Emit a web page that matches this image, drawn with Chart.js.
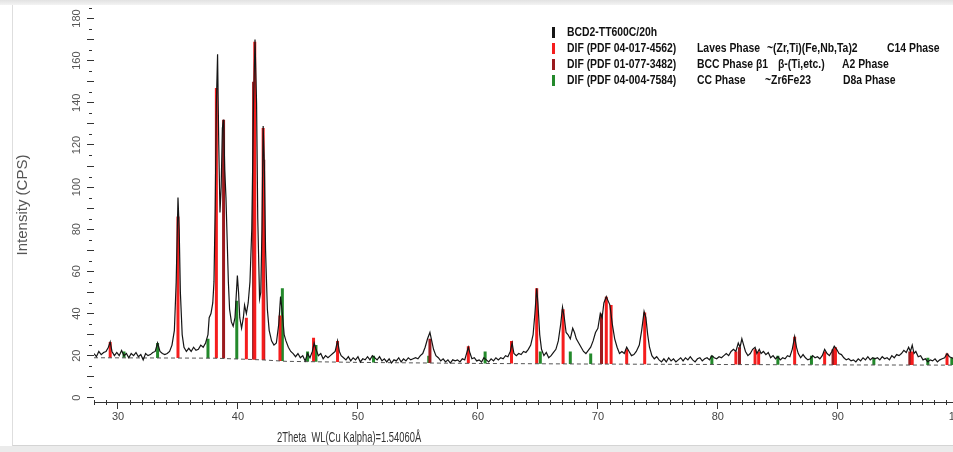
<!DOCTYPE html>
<html>
<head>
<meta charset="utf-8">
<script src="https://cdn.jsdelivr.net/npm/chart.js@4.4.1/dist/chart.umd.min.js"></script>
<style>
html, body { margin: 0; padding: 0; background: #fff; overflow: hidden; }
#wrap { position: relative; width: 953px; height: 452px; overflow: hidden; background: #fff; }
#topband { position: absolute; left: 0; top: 0; width: 953px; height: 5px; background: linear-gradient(#e2e2e2, #f3f3f3); }
#frame { position: absolute; left: 12px; top: 5px; width: 960px; height: 440px; border-left: 1px solid #dedede; border-bottom: 1px solid #d4d4d4; }
#botband { position: absolute; left: 0; top: 446px; width: 953px; height: 6px; background: #ebebeb; }
canvas { position: absolute; left: 0; top: 0; }
</style>
</head>
<body>
<div id="wrap">
  <div id="topband"></div>
  <div id="frame"></div>
  <div id="botband"></div>
  <canvas id="myChart" width="968" height="452"></canvas>
</div>
<script>
// Measured pattern (2theta in degrees, intensity in CPS)
const twoTheta = [
  28.0, 28.2, 28.4, 28.6, 28.8, 29.0, 29.2, 29.35, 29.5, 29.7, 29.9, 30.1, 30.3, 30.5, 30.7, 30.9,
  31.1, 31.3, 31.5, 31.7, 31.9, 32.1, 32.3, 32.5, 32.7, 32.9, 33.1, 33.3, 33.5, 33.7, 33.9, 34.1,
  34.3, 34.5, 34.7, 34.85, 35.0, 35.1, 35.2, 35.35, 35.5, 35.7, 35.9, 36.1, 36.3, 36.5, 36.7, 36.9,
  37.1, 37.3, 37.5, 37.6, 37.75, 37.9, 38.0, 38.1, 38.2, 38.3, 38.4, 38.5, 38.6, 38.7, 38.8, 38.9,
  39.0, 39.1, 39.2, 39.3, 39.45, 39.6, 39.75, 39.85, 39.95, 40.05, 40.15, 40.3, 40.45, 40.55, 40.7, 40.85,
  41.0, 41.15, 41.3, 41.42, 41.55, 41.65, 41.8, 41.9, 42.0, 42.1, 42.2, 42.3, 42.45, 42.6, 42.8, 43.0,
  43.2, 43.4, 43.55, 43.7, 43.85, 44.0, 44.2, 44.4, 44.6, 44.8, 45.0, 45.2, 45.4, 45.6, 45.8, 46.0,
  46.2, 46.35, 46.5, 46.7, 46.9, 47.1, 47.3, 47.5, 47.7, 47.9, 48.1, 48.3, 48.45, 48.6, 48.8, 49.0,
  49.2, 49.4, 49.6, 49.8, 50.0, 50.2, 50.4, 50.6, 50.8, 51.0, 51.2, 51.4, 51.6, 51.8, 52.0, 52.2,
  52.4, 52.6, 52.8, 53.0, 53.2, 53.4, 53.6, 53.8, 54.0, 54.2, 54.4, 54.6, 54.8, 55.0, 55.2, 55.4,
  55.6, 55.8, 56.0, 56.15, 56.3, 56.5, 56.7, 56.9, 57.1, 57.3, 57.5, 57.7, 57.9, 58.1, 58.3, 58.5,
  58.7, 58.9, 59.05, 59.2, 59.35, 59.5, 59.7, 59.9, 60.1, 60.3, 60.5, 60.7, 60.9, 61.1, 61.3, 61.5,
  61.7, 61.9, 62.1, 62.3, 62.5, 62.7, 62.85, 63.0, 63.2, 63.4, 63.6, 63.8, 64.0, 64.2, 64.4, 64.6,
  64.75, 64.9, 65.0, 65.15, 65.3, 65.5, 65.7, 65.9, 66.1, 66.3, 66.5, 66.7, 66.9, 67.05, 67.2, 67.35,
  67.5, 67.7, 67.9, 68.05, 68.2, 68.4, 68.6, 68.8, 69.0, 69.2, 69.4, 69.6, 69.8, 70.0, 70.2, 70.35,
  70.5, 70.7, 70.85, 71.0, 71.2, 71.4, 71.6, 71.8, 72.0, 72.2, 72.4, 72.6, 72.8, 73.0, 73.2, 73.45,
  73.65, 73.85, 74.0, 74.15, 74.3, 74.5, 74.7, 74.9, 75.1, 75.3, 75.5, 75.7, 75.9, 76.1, 76.3, 76.5,
  76.7, 76.9, 77.1, 77.3, 77.5, 77.7, 77.9, 78.1, 78.3, 78.5, 78.7, 78.9, 79.1, 79.3, 79.5, 79.7,
  79.9, 80.1, 80.3, 80.5, 80.7, 80.9, 81.1, 81.3, 81.5, 81.7, 81.85, 82.0, 82.15, 82.3, 82.5, 82.7,
  82.9, 83.1, 83.25, 83.45, 83.6, 83.8, 84.0, 84.2, 84.4, 84.6, 84.8, 85.0, 85.2, 85.4, 85.6, 85.8,
  86.0, 86.2, 86.4, 86.55, 86.7, 86.9, 87.1, 87.3, 87.5, 87.7, 87.9, 88.1, 88.3, 88.5, 88.7, 88.9,
  89.1, 89.3, 89.5, 89.7, 89.9, 90.1, 90.3, 90.5, 90.7, 90.9, 91.1, 91.3, 91.5, 91.7, 91.9, 92.1,
  92.3, 92.5, 92.7, 92.9, 93.1, 93.3, 93.5, 93.7, 93.9, 94.1, 94.3, 94.5, 94.7, 94.9, 95.1, 95.3,
  95.5, 95.7, 95.9, 96.05, 96.2, 96.35, 96.5, 96.7, 96.9, 97.1, 97.3, 97.5, 97.7, 97.9, 98.1, 98.3,
  98.5, 98.7, 98.9, 99.1, 99.3, 99.5, 99.7, 100.0
];
const intensity = [
  21, 19.5, 22, 20.5, 21.5, 22, 24, 26.5, 22, 20, 21.5, 20, 22.5, 20, 21, 19,
  21, 20, 21.5, 19.5, 20.5, 18, 21, 20, 20.5, 21.5, 22, 26, 22, 21, 20.5, 21,
  22, 25, 32, 55, 95, 80, 50, 30, 24, 22, 23.5, 22, 24, 22.5, 23, 25,
  24, 26, 30, 38, 40, 45, 55, 90, 140, 163, 120, 88, 100, 128, 132, 108,
  95, 75, 55, 42, 36, 34, 38, 48, 58, 50, 38, 33, 38, 44, 40, 45,
  55, 80, 140, 170, 140, 85, 47, 50, 80, 129, 110, 70, 42, 32, 27, 25,
  26, 35, 48, 40, 30, 27, 24, 22, 21, 19.5, 21, 19, 20, 17.5, 21, 19,
  22, 26, 23, 20, 21, 18.5, 20, 19, 20, 21, 22, 27, 22, 20, 19, 18,
  19.5, 17.5, 19, 18, 19.5, 17, 18.5, 18, 19.5, 18, 20, 19, 18, 19.5, 17.5, 18.5,
  17, 18.5, 16.5, 18, 17.5, 19, 17, 18.5, 17.5, 19, 18, 18.5, 19, 18.5, 20, 21,
  24, 28, 31, 27, 23, 20, 19, 17.5, 18.5, 17, 18, 16.5, 18, 17.5, 18, 17,
  18.5, 18, 21, 24, 21, 18.5, 19, 17.5, 18, 17, 19, 18, 17, 18.5, 17.5, 19,
  18, 19, 18.5, 20, 19.5, 22, 26, 21, 20, 21, 20.5, 22, 21.5, 23, 25, 30,
  40, 52, 45, 30, 23, 20, 21.5, 19, 20, 21.5, 23, 27, 35, 43, 38, 31,
  30, 28, 33, 31, 28, 26, 24, 22, 21, 22.5, 24, 27, 31, 33, 40, 38,
  45, 48, 46, 44, 35, 28, 24, 21, 22, 21, 24, 22, 20, 20.5, 22, 25,
  32, 41, 38, 30, 24, 20, 18.5, 19.5, 18, 17, 18.5, 17, 19, 17.5, 18.5, 17,
  18, 19, 17.5, 19, 18, 19.5, 18, 17, 18.5, 19, 17.5, 18.5, 19, 18, 20, 19,
  18.5, 19.5, 19, 20, 21, 20, 22, 23, 22, 26, 24, 28, 25, 22, 20, 21,
  23, 24, 21, 23, 21, 22, 20.5, 21.5, 19, 20, 18.5, 19.5, 18, 19, 18.5, 20,
  19.5, 23, 29, 24, 21, 19, 20.5, 19, 18, 18.5, 20, 19, 19.5, 18.5, 20, 23,
  21, 20, 22, 24.5, 23, 21, 20.5, 19, 18, 18.5, 17.5, 18, 17, 18.5, 17.5, 19,
  18, 19.5, 18, 19, 18.5, 19, 18, 19.5, 18.5, 19, 18, 20, 19, 20.5, 20, 21,
  22.5, 21.5, 24, 22, 25, 21, 22, 19.5, 20, 18, 18.5, 17, 18, 17.5, 18.5, 17,
  18, 18.5, 19, 21, 19.5, 19, 18.5, 19
];

// Fitted background (dashed)
const baselineX = [28, 38, 42, 44, 50, 60, 70, 80, 90, 100];
const baselineY = [19, 18.8, 18, 17.3, 16.8, 16.3, 16, 15.8, 15.6, 15.5];

// Reference patterns: line positions and heights
const lavesPos = [29.35, 35.0, 38.2, 40.7, 41.4, 42.1, 43.5, 46.3, 48.3, 59.2, 62.8, 64.9, 67.1, 70.7, 71.1, 72.4, 73.9, 81.5, 83.1, 83.4, 86.4, 88.9, 89.8, 96.2, 99.1];
const lavesInt = [26.5, 86, 147, 38, 169, 128, 39, 28.5, 27, 24.5, 27, 52, 42, 48, 44, 23, 40.5, 22, 23, 22, 29, 22, 24, 22, 21];
const bccPos = [38.8, 41.3, 42.15, 56.0, 70.3, 81.8, 89.6, 96.0];
const bccInt = [132, 150, 113, 28, 40, 24, 23, 22];
const ccPos = [30.5, 33.3, 37.5, 39.9, 43.7, 45.8, 46.5, 51.3, 55.9, 60.6, 65.2, 67.7, 69.4, 79.5, 85.0, 87.8, 93.0, 97.5, 99.5];
const ccInt = [22, 26, 28, 46, 52, 22, 25, 20, 20, 22, 22, 22, 21, 20, 20, 20, 19, 19, 19];

const xMajor = [30, 40, 50, 60, 70, 80, 90, 100];
const yLabels = [0, 20, 40, 60, 80, 100, 120, 140, 160, 180];

const legendRows = [
  ['BCD2-TT600C/20h'],
  ['DIF (PDF 04-017-4562)', 'Laves Phase', '~(Zr,Ti)(Fe,Nb,Ta)2', 'C14 Phase'],
  ['DIF (PDF 01-077-3482)', 'BCC Phase \u03b21', '\u03b2-(Ti,etc.)', 'A2 Phase'],
  ['DIF (PDF 04-004-7584)', 'CC Phase', '~Zr6Fe23', 'D8a Phase']
];

const BLACK = '#151515';
const RED = '#f51d1d';
const DARKRED = '#9a1a1e';
const GREEN = '#23892b';
const legendColors = [BLACK, RED, DARKRED, GREEN];

// background value at a given angle (for the foot of each reference line)
function baseAt(x) {
  for (let i = 1; i < baselineX.length; i++) {
    if (x <= baselineX[i]) {
      const t = (x - baselineX[i - 1]) / (baselineX[i] - baselineX[i - 1]);
      return baselineY[i - 1] + t * (baselineY[i] - baselineY[i - 1]);
    }
  }
  return baselineY[baselineY.length - 1];
}

function sticks(pos, hts) {
  const pts = [];
  pos.forEach((p, i) => {
    pts.push({ x: p, y: baseAt(p) }, { x: p, y: hts[i] }, { x: p, y: null });
  });
  return pts;
}

const sans = "'Liberation Sans', Arial, sans-serif";

// text squeezed horizontally to look like the narrow font of the original
function narrowText(ctx, txt, x, y, squeeze) {
  ctx.save();
  ctx.translate(x, y);
  ctx.scale(squeeze, 1);
  ctx.fillText(txt, 0, 0);
  ctx.restore();
}

// extra drawing: minor ticks, rotated y labels, x title, legend
const decorations = {
  id: 'decorations',
  afterDraw(chart) {
    const ctx = chart.ctx;
    const xs = chart.scales.x, ys = chart.scales.y;
    const area = chart.chartArea;
    ctx.save();
    ctx.strokeStyle = '#333';
    ctx.lineWidth = 1;
    // x minor ticks every degree
    for (let v = 28; v <= 100; v++) {
      if (v % 10 === 0) continue;
      const px = Math.round(xs.getPixelForValue(v)) + 0.5;
      ctx.beginPath();
      ctx.moveTo(px, area.bottom - 2);
      ctx.lineTo(px, area.bottom + 3);
      ctx.stroke();
    }
    // y minor ticks every 5
    for (let v = 5; v <= 185; v += 10) {
      const py = Math.round(ys.getPixelForValue(v)) + 0.5;
      ctx.beginPath();
      ctx.moveTo(area.left - 5, py);
      ctx.lineTo(area.left - 2, py);
      ctx.stroke();
    }
    // y labels, rotated
    ctx.fillStyle = '#555';
    ctx.font = '11px ' + sans;
    ctx.textAlign = 'center';
    ctx.textBaseline = 'middle';
    yLabels.forEach(v => {
      ctx.save();
      ctx.translate(77, ys.getPixelForValue(v));
      ctx.rotate(-Math.PI / 2);
      ctx.fillText(String(v), 0, 0);
      ctx.restore();
    });
    // x title
    ctx.fillStyle = '#333';
    ctx.font = '14px ' + sans;
    ctx.textAlign = 'left';
    narrowText(ctx, '2Theta  WL(Cu Kalpha)=1.54060\u00c5', 277, 438, 0.67);
    // legend
    const rowY = [32, 48, 64, 80];
    const colX = [
      [567],
      [567, 697, 767, 887],
      [567, 697, 778, 842],
      [567, 697, 765, 843]
    ];
    ctx.font = 'bold 13px ' + sans;
    legendRows.forEach((row, r) => {
      ctx.fillStyle = legendColors[r];
      ctx.fillRect(552, rowY[r] - 5, 3, 11);
      ctx.fillStyle = '#111';
      row.forEach((txt, c) => narrowText(ctx, txt, colX[r][c], rowY[r], 0.8));
    });
    ctx.restore();
  }
};

const ctx = document.getElementById('myChart').getContext('2d');
new Chart(ctx, {
  type: 'line',
  data: {
    datasets: [
      {
        label: 'BCD2-TT600C/20h',
        data: twoTheta.map((t, i) => ({ x: t, y: intensity[i] })),
        borderColor: BLACK,
        borderWidth: 1.2,
        pointRadius: 0,
        tension: 0
      },
      {
        label: 'background',
        data: baselineX.map((t, i) => ({ x: t, y: baselineY[i] })),
        borderColor: '#555',
        borderWidth: 1,
        borderDash: [4, 3],
        pointRadius: 0
      },
      {
        label: 'Laves Phase',
        data: sticks(lavesPos, lavesInt),
        borderColor: RED,
        borderWidth: 3,
        borderCapStyle: 'butt',
        pointRadius: 0,
        spanGaps: false
      },
      {
        label: 'BCC Phase',
        data: sticks(bccPos, bccInt),
        borderColor: DARKRED,
        borderWidth: 3,
        borderCapStyle: 'butt',
        pointRadius: 0,
        spanGaps: false
      },
      {
        label: 'CC Phase',
        data: sticks(ccPos, ccInt),
        borderColor: GREEN,
        borderWidth: 3,
        borderCapStyle: 'butt',
        pointRadius: 0,
        spanGaps: false
      }
    ]
  },
  options: {
    responsive: false,
    animation: false,
    devicePixelRatio: 1,
    layout: { padding: { top: 8, right: 8, left: 0, bottom: 0 } },
    plugins: { legend: { display: false }, tooltip: { enabled: false } },
    scales: {
      x: {
        type: 'linear',
        min: 28,
        max: 100,
        afterBuildTicks: s => { s.ticks = xMajor.map(v => ({ value: v })); },
        afterFit: s => { s.height = 50; },
        border: { display: true, color: '#333', width: 1 },
        grid: { drawOnChartArea: false, drawTicks: true, tickLength: 7, color: '#333' },
        ticks: { font: { size: 11, family: sans }, color: '#444', padding: 1, maxRotation: 0, autoSkip: false }
      },
      y: {
        type: 'linear',
        min: -2,
        max: 185,
        afterBuildTicks: s => { s.ticks = yLabels.concat([10, 30, 50, 70, 90, 110, 130, 150, 170]).map(v => ({ value: v })); },
        afterFit: s => { s.width = 94; },
        border: { display: false },
        grid: { drawOnChartArea: false, drawTicks: true, tickLength: 7, color: '#333' },
        ticks: { display: false },
        title: {
          display: true,
          text: 'Intensity (CPS)',
          color: '#555',
          font: { size: 15, family: sans },
          padding: { top: 14, bottom: 0 }
        }
      }
    }
  },
  plugins: [decorations]
});
</script>
</body>
</html>
